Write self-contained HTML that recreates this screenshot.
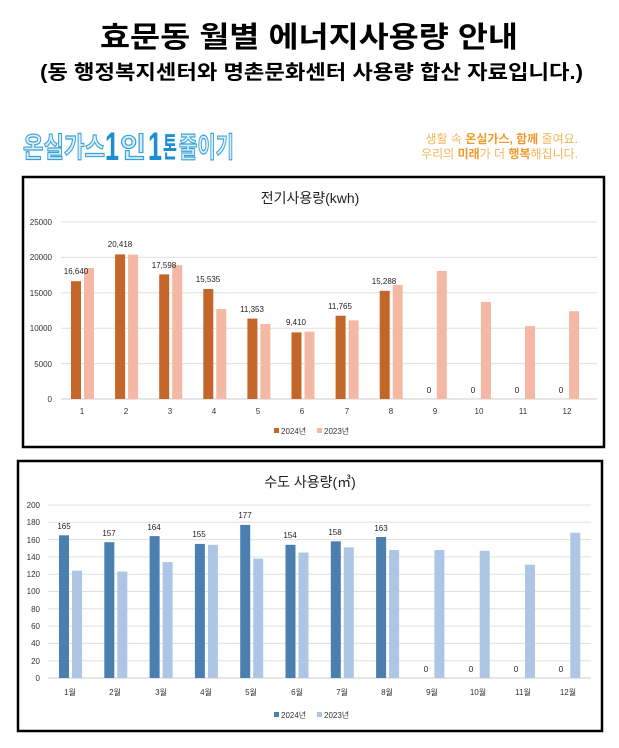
<!DOCTYPE html>
<html><head><meta charset="utf-8"><style>
html,body{margin:0;padding:0;background:#fff;}
svg{display:block;font-family:"Liberation Sans","Noto Sans CJK KR",sans-serif;}
</style></head><body>
<svg width="619" height="748" viewBox="0 0 619 748" xmlns="http://www.w3.org/2000/svg">
<rect width="619" height="748" fill="#fff"/>
<text x="100" y="47" font-size="29" font-weight="bold" fill="#000" textLength="418" lengthAdjust="spacingAndGlyphs">효문동 월별 에너지사용량 안내</text>
<text x="40" y="79" font-size="20" font-weight="bold" fill="#000" textLength="543" lengthAdjust="spacingAndGlyphs">(동 행정복지센터와 명촌문화센터 사용량 합산 자료입니다.)</text>
<!-- banner -->
<g font-weight="bold">
<text x="23" y="157" font-size="28" fill="#d8eef9" stroke="#3aa2d8" stroke-width="1.2" textLength="82" lengthAdjust="spacingAndGlyphs">온실가스</text>
<text x="105" y="160" font-size="40" fill="#1a8fd2" textLength="14" lengthAdjust="spacingAndGlyphs">1</text>
<text x="120" y="157" font-size="28" fill="#d8eef9" stroke="#3aa2d8" stroke-width="1.2" textLength="26" lengthAdjust="spacingAndGlyphs">인</text>
<text x="148" y="160" font-size="40" fill="#1a8fd2" textLength="14" lengthAdjust="spacingAndGlyphs">1</text>
<text x="163" y="157" font-size="28" fill="#1a8fd2" textLength="14" lengthAdjust="spacingAndGlyphs">톤</text>
<text x="179" y="157" font-size="28" fill="#d8eef9" stroke="#3aa2d8" stroke-width="1.2" textLength="55" lengthAdjust="spacingAndGlyphs">줄이기</text>
</g>
<text x="578" y="143" text-anchor="end" font-size="12" fill="#f3b55a">생활 속 <tspan font-weight="bold" fill="#f09a2a">온실가스, 함께</tspan> 줄여요.</text>
<text x="578" y="158" text-anchor="end" font-size="12" fill="#f3b55a">우리의 <tspan font-weight="bold" fill="#f09a2a">미래</tspan>가 더 <tspan font-weight="bold" fill="#f09a2a">행복</tspan>해집니다.</text>

<!-- chart 1 -->
<rect x="23" y="177" width="581" height="270" fill="#fff" stroke="#000" stroke-width="2.5"/>
<text x="310" y="203" text-anchor="middle" font-size="14" fill="#222">전기사용량(kwh)</text>
<g stroke="#e0e0e0" stroke-width="1">
<line x1="61" x2="597" y1="222" y2="222"/><line x1="61" x2="597" y1="257.4" y2="257.4"/>
<line x1="61" x2="597" y1="292.8" y2="292.8"/><line x1="61" x2="597" y1="328.2" y2="328.2"/>
<line x1="61" x2="597" y1="363.6" y2="363.6"/><line x1="61" x2="597" y1="399" y2="399" stroke="#ccc"/>
</g>
<g font-size="8" fill="#333" text-anchor="end">
<text x="52" y="225">25000</text><text x="52" y="260">20000</text><text x="52" y="296">15000</text>
<text x="52" y="331">10000</text><text x="52" y="367">5000</text><text x="52" y="402">0</text>
</g>
<g fill="#c4662a">
<rect x="71" y="281.2" width="10" height="117.8"/>
<rect x="115.1" y="254.4" width="10" height="144.6"/>
<rect x="159.2" y="274.4" width="10" height="124.6"/>
<rect x="203.3" y="289" width="10" height="110"/>
<rect x="247.4" y="318.6" width="10" height="80.4"/>
<rect x="291.5" y="332.4" width="10" height="66.6"/>
<rect x="335.6" y="315.7" width="10" height="83.3"/>
<rect x="379.7" y="290.8" width="10" height="108.2"/>
</g>
<g fill="#f4b8a4">
<rect x="84" y="268" width="10" height="131"/>
<rect x="128.1" y="254.6" width="10" height="144.4"/>
<rect x="172.2" y="265.2" width="10" height="133.8"/>
<rect x="216.3" y="309.1" width="10" height="89.9"/>
<rect x="260.4" y="324" width="10" height="75"/>
<rect x="304.5" y="331.7" width="10" height="67.3"/>
<rect x="348.6" y="320.4" width="10" height="78.6"/>
<rect x="392.7" y="285" width="10" height="114"/>
<rect x="436.8" y="270.9" width="10" height="128.1"/>
<rect x="480.9" y="302" width="10" height="97"/>
<rect x="525" y="326.1" width="10" height="72.9"/>
<rect x="569.1" y="311.2" width="10" height="87.8"/>
</g>
<g font-size="8" fill="#222" text-anchor="middle">
<text x="76" y="274">16,640</text><text x="120" y="247">20,418</text><text x="164" y="268">17,598</text>
<text x="208" y="282">15,535</text><text x="252" y="312">11,353</text><text x="296" y="325">9,410</text>
<text x="340" y="309">11,765</text><text x="384" y="284">15,288</text>
<text x="429" y="393">0</text><text x="473" y="393">0</text><text x="517" y="393">0</text><text x="561" y="393">0</text>
</g>
<g font-size="8" fill="#333" text-anchor="middle">
<text x="82" y="414">1</text><text x="126" y="414">2</text><text x="170" y="414">3</text><text x="214" y="414">4</text>
<text x="258" y="414">5</text><text x="302" y="414">6</text><text x="347" y="414">7</text><text x="391" y="414">8</text>
<text x="435" y="414">9</text><text x="479" y="414">10</text><text x="523" y="414">11</text><text x="567" y="414">12</text>
</g>
<rect x="274" y="428" width="5" height="5" fill="#c4662a"/><text x="281" y="434" font-size="8" fill="#333">2024년</text>
<rect x="317" y="428" width="5" height="5" fill="#f4b8a4"/><text x="324" y="434" font-size="8" fill="#333">2023년</text>

<!-- chart 2 -->
<rect x="18" y="461" width="584" height="270" fill="#fff" stroke="#000" stroke-width="2.5"/>
<text x="310" y="487" text-anchor="middle" font-size="14" fill="#222">수도 사용량(㎥)</text>
<g stroke="#e0e0e0" stroke-width="1">
<line x1="48" x2="591" y1="505" y2="505"/><line x1="48" x2="591" y1="522.3" y2="522.3"/>
<line x1="48" x2="591" y1="539.6" y2="539.6"/><line x1="48" x2="591" y1="556.9" y2="556.9"/>
<line x1="48" x2="591" y1="574.2" y2="574.2"/><line x1="48" x2="591" y1="591.5" y2="591.5"/>
<line x1="48" x2="591" y1="608.8" y2="608.8"/><line x1="48" x2="591" y1="626.1" y2="626.1"/>
<line x1="48" x2="591" y1="643.4" y2="643.4"/><line x1="48" x2="591" y1="660.7" y2="660.7"/>
<line x1="48" x2="591" y1="678" y2="678" stroke="#ccc"/>
</g>
<g font-size="8" fill="#333" text-anchor="end">
<text x="40" y="508">200</text><text x="40" y="525">180</text><text x="40" y="543">160</text>
<text x="40" y="560">140</text><text x="40" y="577">120</text><text x="40" y="594">100</text>
<text x="40" y="612">80</text><text x="40" y="629">60</text><text x="40" y="646">40</text>
<text x="40" y="664">20</text><text x="40" y="681">0</text>
</g>
<g fill="#4b7fb0">
<rect x="59" y="535.3" width="10" height="142.7"/>
<rect x="104.3" y="542.2" width="10" height="135.8"/>
<rect x="149.6" y="536.1" width="10" height="141.9"/>
<rect x="194.9" y="543.9" width="10" height="134.1"/>
<rect x="240.2" y="524.9" width="10" height="153.1"/>
<rect x="285.5" y="544.8" width="10" height="133.2"/>
<rect x="330.8" y="541.3" width="10" height="136.7"/>
<rect x="376.1" y="537" width="10" height="141"/>
</g>
<g fill="#aec6e6">
<rect x="72" y="570.7" width="10" height="107.3"/>
<rect x="117.3" y="571.6" width="10" height="106.4"/>
<rect x="162.6" y="562.1" width="10" height="115.9"/>
<rect x="207.9" y="544.8" width="10" height="133.2"/>
<rect x="253.2" y="558.6" width="10" height="119.4"/>
<rect x="298.5" y="552.6" width="10" height="125.4"/>
<rect x="343.8" y="547.4" width="10" height="130.6"/>
<rect x="389.1" y="550" width="10" height="128"/>
<rect x="434.4" y="550" width="10" height="128"/>
<rect x="479.7" y="550.8" width="10" height="127.2"/>
<rect x="525" y="564.7" width="10" height="113.3"/>
<rect x="570.3" y="532.7" width="10" height="145.3"/>
</g>
<g font-size="8" fill="#222" text-anchor="middle">
<text x="64" y="529">165</text><text x="109" y="536">157</text><text x="154" y="530">164</text>
<text x="199" y="537">155</text><text x="245" y="518">177</text><text x="290" y="538">154</text>
<text x="335" y="535">158</text><text x="381" y="531">163</text>
<text x="426" y="672">0</text><text x="471" y="672">0</text><text x="516" y="672">0</text><text x="561" y="672">0</text>
</g>
<g font-size="8" fill="#333" text-anchor="middle">
<text x="70" y="695">1월</text><text x="115" y="695">2월</text><text x="161" y="695">3월</text><text x="206" y="695">4월</text>
<text x="251" y="695">5월</text><text x="297" y="695">6월</text><text x="342" y="695">7월</text><text x="387" y="695">8월</text>
<text x="432" y="695">9월</text><text x="478" y="695">10월</text><text x="523" y="695">11월</text><text x="568" y="695">12월</text>
</g>
<rect x="274" y="712" width="5" height="5" fill="#4b7fb0"/><text x="281" y="718" font-size="8" fill="#333">2024년</text>
<rect x="317" y="712" width="5" height="5" fill="#aec6e6"/><text x="324" y="718" font-size="8" fill="#333">2023년</text>
</svg>
</body></html>
